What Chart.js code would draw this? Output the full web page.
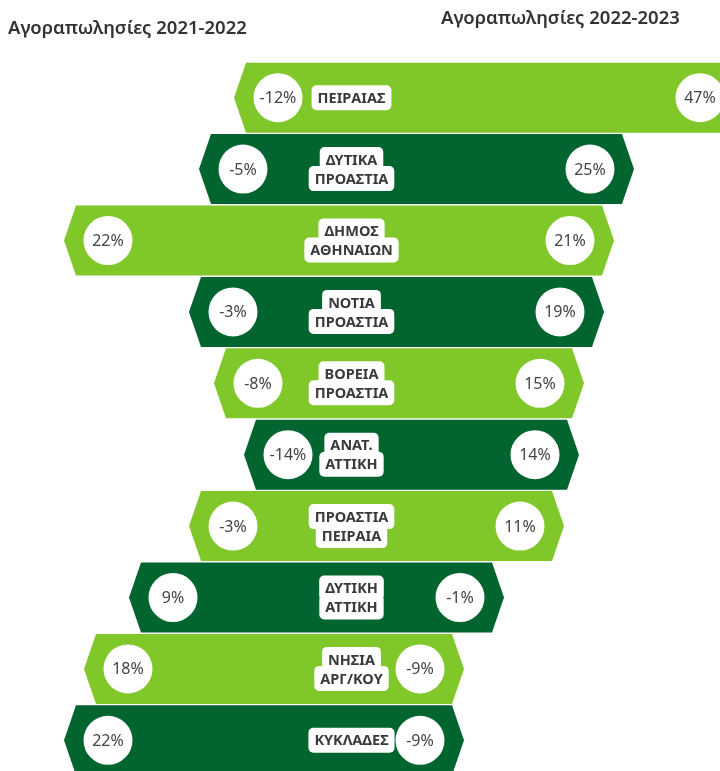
<!DOCTYPE html>
<html lang="el">
<head>
<meta charset="utf-8">
<title>Αγοραπωλησίες ανά περιοχή</title>
<script src="https://cdn.jsdelivr.net/npm/chart.js@4.4.1/dist/chart.umd.min.js"></script>
<style>
    html, body { margin: 0; padding: 0; background: #fff; overflow: hidden; }
    #wrap { position: relative; width: 720px; height: 776px; }
    #salesChart { position: absolute; left: 0; top: 0; }
    .head {
        position: absolute;
        font-family: "Noto Sans", sans-serif;
        font-weight: 600;
        font-size: 18.5px;
        color: #333;
        white-space: nowrap;
        z-index: 2;
    }
    #headLeft { left: 8px; top: 14px; }
    #headRight { left: 441px; top: 4px; }
</style>
</head>
<body>
<div id="wrap">
    <div class="head" id="headLeft">Αγοραπωλησίες 2021-2022</div>
    <div class="head" id="headRight">Αγοραπωλησίες 2022-2023</div>
    <canvas id="salesChart" width="720" height="776"></canvas>
</div>
<script>
// Περιοχές (κάθε στοιχείο = γραμμές της ετικέτας)
const regions = [
    ["ΠΕΙΡΑΙΑΣ"],
    ["ΔΥΤΙΚΑ", "ΠΡΟΑΣΤΙΑ"],
    ["ΔΗΜΟΣ", "ΑΘΗΝΑΙΩΝ"],
    ["ΝΟΤΙΑ", "ΠΡΟΑΣΤΙΑ"],
    ["ΒΟΡΕΙΑ", "ΠΡΟΑΣΤΙΑ"],
    ["ΑΝΑΤ.", "ΑΤΤΙΚΗ"],
    ["ΠΡΟΑΣΤΙΑ", "ΠΕΙΡΑΙΑ"],
    ["ΔΥΤΙΚΗ", "ΑΤΤΙΚΗ"],
    ["ΝΗΣΙΑ", "ΑΡΓ/ΚΟΥ"],
    ["ΚΥΚΛΑΔΕΣ"]
];

// Μεταβολή αγοραπωλησιών (%)
const sales2122 = [-12, -5, 22, -3, -8, -14, -3, 9, 18, 22];
const sales2223 = [47, 25, 21, 19, 15, 14, 11, -1, -9, -9];

const barColors = ["#80c72a", "#02652f"];

// Μισό πλάτος της κεντρικής ζώνης (σε ποσοστιαίες μονάδες)
const HALF_GAP = 33.5;
const TIP = 12;          // βάθος της μύτης στα άκρα
const BADGE_INSET = 44;  // απόσταση κύκλου από τη μύτη
const BADGE_R = 24.5;

const FONT = '"Noto Sans", sans-serif';

function drawBadge(ctx, cx, cy, text) {
    ctx.beginPath();
    ctx.arc(cx, cy, BADGE_R, 0, Math.PI * 2);
    ctx.fillStyle = "#fff";
    ctx.fill();
    ctx.fillStyle = "#444";
    ctx.font = "16px " + FONT;
    ctx.textAlign = "center";
    ctx.textBaseline = "middle";
    ctx.fillText(text, cx, cy + 1);
}

function roundRect(ctx, x, y, w, h, r) {
    ctx.beginPath();
    ctx.moveTo(x + r, y);
    ctx.arcTo(x + w, y, x + w, y + h, r);
    ctx.arcTo(x + w, y + h, x, y + h, r);
    ctx.arcTo(x, y + h, x, y, r);
    ctx.arcTo(x, y, x + w, y, r);
    ctx.closePath();
}

function drawName(ctx, cx, cy, lines) {
    const lineH = 19;
    ctx.font = "bold 14.5px " + FONT;
    ctx.textAlign = "center";
    ctx.textBaseline = "middle";
    const y0 = cy - (lines.length - 1) * lineH / 2;
    // λευκό φόντο ανά γραμμή, ώστε να βγαίνει το "σκαλωτό" σχήμα
    ctx.fillStyle = "#fff";
    lines.forEach((t, k) => {
        const w = ctx.measureText(t).width + 12;
        roundRect(ctx, cx - w / 2, y0 + k * lineH - 12.5, w, 25, 5);
        ctx.fill();
    });
    ctx.fillStyle = "#3a3a3a";
    lines.forEach((t, k) => ctx.fillText(t, cx, y0 + k * lineH + 1));
}

// Ζωγραφίζει τις μπάρες ως εξάγωνα με κύκλους και ετικέτες
const hexBars = {
    id: "hexBars",
    beforeDatasetsDraw(chart) {
        const ctx = chart.ctx;
        const meta = chart.getDatasetMeta(0);
        const nameX = chart.scales.x.getPixelForValue(2);

        meta.data.forEach((bar, i) => {
            const { x, y, base, height } = bar.getProps(["x", "y", "base", "height"], true);
            const left = Math.min(x, base);
            const right = Math.max(x, base);
            const top = y - height / 2;
            const bottom = y + height / 2;

            ctx.save();
            ctx.beginPath();
            ctx.moveTo(left, y);
            ctx.lineTo(left + TIP, top);
            ctx.lineTo(right - TIP, top);
            ctx.lineTo(right, y);
            ctx.lineTo(right - TIP, bottom);
            ctx.lineTo(left + TIP, bottom);
            ctx.closePath();
            ctx.fillStyle = bar.options.backgroundColor;
            ctx.fill();

            drawBadge(ctx, left + BADGE_INSET, y, sales2122[i] + "%");
            drawBadge(ctx, right - BADGE_INSET, y, sales2223[i] + "%");
            drawName(ctx, nameX, y, regions[i]);
            ctx.restore();
        });
        return false;
    }
};

const ctx = document.getElementById("salesChart").getContext("2d");

new Chart(ctx, {
    type: "bar",
    data: {
        labels: regions.map(r => r.join(" ")),
        datasets: [{
            // αριστερά η περίοδος 2021-2022, δεξιά η 2022-2023
            data: sales2122.map((v, i) => [-(HALF_GAP + v), HALF_GAP + sales2223[i]]),
            backgroundColor: regions.map((r, i) => barColors[i % 2]),
            borderWidth: 0,
            barPercentage: 0.98,
            categoryPercentage: 1
        }]
    },
    options: {
        indexAxis: "y",
        responsive: false,
        animation: false,
        layout: { padding: { top: 62, left: 0, right: 0, bottom: 0 } },
        scales: {
            x: { type: "linear", min: -68.3, max: 75.7, display: false },
            y: { display: false }
        },
        plugins: {
            legend: { display: false },
            tooltip: { enabled: false }
        }
    },
    plugins: [hexBars]
});
</script>
</body>
</html>
